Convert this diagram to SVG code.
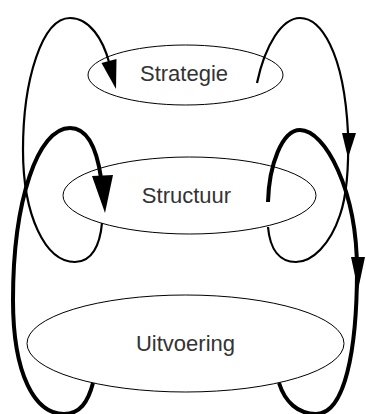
<svg xmlns="http://www.w3.org/2000/svg" width="366" height="414" viewBox="0 0 366 414">
<style>
.node ellipse{fill:#ffffff;stroke:#000000;stroke-width:1}
.node text{font-family:"Liberation Sans",Arial,sans-serif;font-size:22px;fill:#333333;text-anchor:middle}
.thin{fill:none;stroke:#000000;stroke-width:2.2}
.thick{fill:none;stroke:#000000;stroke-width:4}
.head{fill:#000000;stroke:none}
</style>
<rect width="366" height="414" fill="#ffffff"/>
<g id="node-uitvoering" class="node">
<ellipse cx="185.5" cy="343.5" rx="158.5" ry="48.5"/>
<text x="185.5" y="351">Uitvoering</text>
</g>
<g id="node-structuur" class="node">
<ellipse cx="189.5" cy="195.5" rx="126.5" ry="38.5"/>
<text x="186.5" y="203">Structuur</text>
</g>
<g id="node-strategie" class="node">
<ellipse cx="185.5" cy="75" rx="97.5" ry="30"/>
<text x="184" y="81">Strategie</text>
</g>
<g id="connectors">
<path class="thin" d="M102,223 C100,245 92,262 75,262 C45,262 23,215 23,150 C23,80 42,18 70,18 C90,18 103,40 109,62"/>
<polygon class="head" points="101.5,63 116.5,59 116,89"/>
<path class="thick" d="M93,383 C88,402 80,414 64,414 C35,414 13,375 13,300 C13,200 38,128 70,128 C88,128 97,150 101,178"/>
<polygon class="head" points="92,176 113,175 105,213"/>
<path class="thin" d="M257,83 C265,45 282,18 300,18 C320,18 344,50 348,133 C349,170 347,195 340,215 C330,245 312,262 296,262 C280,262 270,250 268,227"/>
<polygon class="head" points="342,133 356,133 348,158"/>
<path class="thick" d="M268,202 C269,165 282,130 300,130 C325,130 357,190 357,270 C357,350 345,414 316,414 C298,414 285,402 279,383"/>
<polygon class="head" points="351,257 365,257 358,290"/>
</g>
</svg>
